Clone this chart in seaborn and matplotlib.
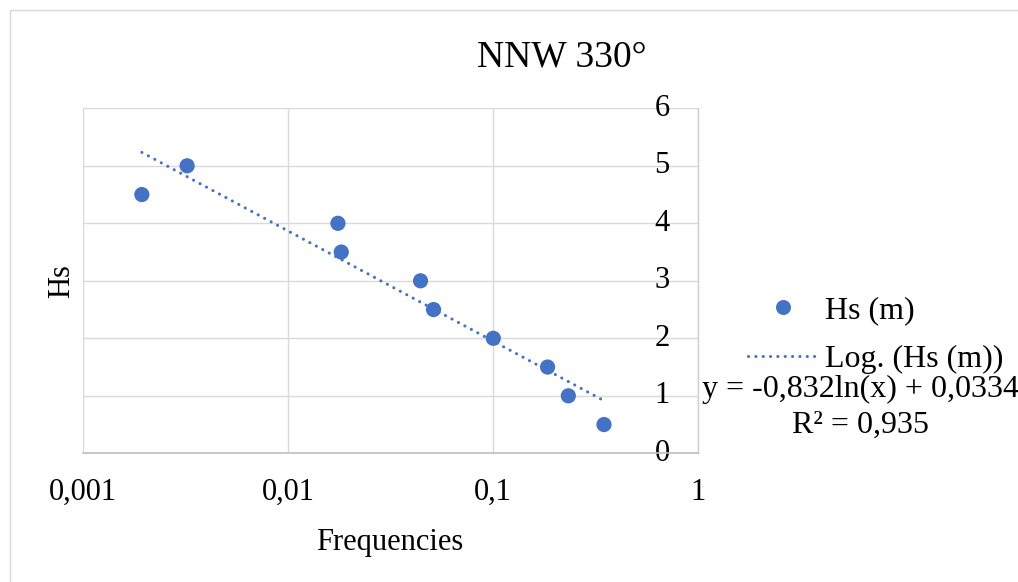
import matplotlib
matplotlib.use("Agg")
import matplotlib.pyplot as plt
from matplotlib.lines import Line2D
import numpy as np
import pandas as pd
import seaborn as sns

# ---- data ----
frequencies = [0.00193, 0.00321, 0.01746, 0.01813, 0.04416, 0.0511, 0.1, 0.184, 0.2323, 0.3467]
hs_m = [4.5, 5.0, 4.0, 3.5, 3.0, 2.5, 2.0, 1.5, 1.0, 0.5]
trend_slope = -0.832      # y = a ln(x) + b  (Excel log trendline)
trend_intercept = 0.0334
r_squared = "0,935"
x_ticks = [0.001, 0.01, 0.1, 1]
x_tick_labels = ["0,001", "0,01", "0,1", "1"]
y_ticks = [0, 1, 2, 3, 4, 5, 6]
y_tick_labels = ["0", "1", "2", "3", "4", "5", "6"]
title = "NNW 330°"
series_name = "Hs (m)"
trend_name = "Log. (Hs (m))"

df = pd.DataFrame({"Frequencies": frequencies, "Hs": hs_m})
x_tr = np.array([min(frequencies), max(frequencies)])
trend = pd.DataFrame({"x": x_tr, "y": trend_slope * np.log(x_tr) + trend_intercept})

sns.set_theme(style="white")
plt.rcParams["font.family"] = ["Liberation Serif", "DejaVu Serif"]
for k in ["text.color", "axes.labelcolor", "xtick.color", "ytick.color"]:
    plt.rcParams[k] = "black"

W, H = 1018, 582
fig = plt.figure(figsize=(W / 100, H / 100), dpi=100)
fig.patch.set_facecolor("white")

L, R = 83.3 / W, 698.3 / W
B, T = 1 - 453.3 / H, 1 - 108.3 / H
ax = fig.add_axes([L, B, R - L, T - B])

blue = "#4472C4"
grid_c = "#D9D9D9"

sns.lineplot(data=trend, x="x", y="y", ax=ax, color=blue, linewidth=2.2,
             linestyle=(0, (0.05, 2.35)), dash_capstyle="round", zorder=3)
sns.scatterplot(data=df, x="Frequencies", y="Hs", ax=ax, color=blue, s=120,
                edgecolor="none", linewidth=0, zorder=4)

ax.set_xscale("log")
ax.set_xlim(0.001, 1)
ax.set_ylim(0, 6)
ax.set_xticks(x_ticks, x_tick_labels)
ax.xaxis.set_minor_locator(matplotlib.ticker.NullLocator())
ax.set_yticks(y_ticks, y_tick_labels)
ax.grid(True, which="major", color=grid_c, linewidth=1.0)
ax.set_axisbelow(True)

for s in ["top", "left"]:
    ax.spines[s].set_visible(False)
ax.spines["right"].set_color("#CFCFCF")
ax.spines["right"].set_linewidth(1.0)
ax.spines["bottom"].set_color("#BFBFBF")
ax.spines["bottom"].set_linewidth(1.2)

ax.yaxis.tick_right()
ax.tick_params(axis="y", length=0, pad=-36.3 * 0.72, labelsize=22, labelcolor="black")
for lbl in ax.get_yticklabels():
    lbl.set_ha("center")
    lbl.set_va("center")
ax.tick_params(axis="x", length=0, pad=38.7 * 0.72, labelsize=22, labelcolor="black")
for lbl in ax.get_xticklabels():
    lbl.set_va("center")

ax.set_xlabel("Frequencies", fontsize=22, color="black")
ax.xaxis.label.set_va("baseline")
ax.xaxis.set_label_coords(390 / W, 1 - 550 / H, transform=fig.transFigure)
ax.set_ylabel("Hs", fontsize=22, color="black")
ax.yaxis.set_label_position("left")
ax.yaxis.label.set_va("center")
ax.yaxis.set_label_coords(62 / W, 1 - 281 / H, transform=fig.transFigure)

fig.text(561.7 / W, 1 - 66.7 / H, title, ha="center", va="baseline", fontsize=27,
         color="black")

handles = [
    Line2D([], [], marker="o", linestyle="none", color=blue, markersize=10.8,
           markeredgewidth=0),
    Line2D([], [], color=blue, linewidth=2.2, linestyle=(0, (0.05, 2.35)),
           dash_capstyle="round"),
]
leg = fig.legend(handles, [series_name, trend_name], loc="upper left",
                 bbox_to_anchor=(748 / W, 1 - 296 / H), bbox_transform=fig.transFigure,
                 frameon=False, fontsize=23, handlelength=2.16, handletextpad=0.25,
                 labelspacing=0.6, borderpad=0, borderaxespad=0)
for t in leg.get_texts():
    t.set_color("black")

fig.text(860 / W, 1 - 397.3 / H, "y = -0,832ln(x) + 0,0334", ha="center",
         va="baseline", fontsize=23, color="black")
fig.text(860.5 / W, 1 - 433 / H, f"R² = {r_squared}", ha="center",
         va="baseline", fontsize=23, color="black")

# outer chart frame (only top/left edges visible in the crop)
fig.add_artist(Line2D([10 / W, 1], [1 - 9.5 / H, 1 - 9.5 / H], color=grid_c,
                      linewidth=1.0, transform=fig.transFigure))
fig.add_artist(Line2D([10 / W, 10 / W], [0, 1 - 9.5 / H], color=grid_c,
                      linewidth=1.0, transform=fig.transFigure))

fig.savefig("out.png", dpi=100, facecolor="white")
